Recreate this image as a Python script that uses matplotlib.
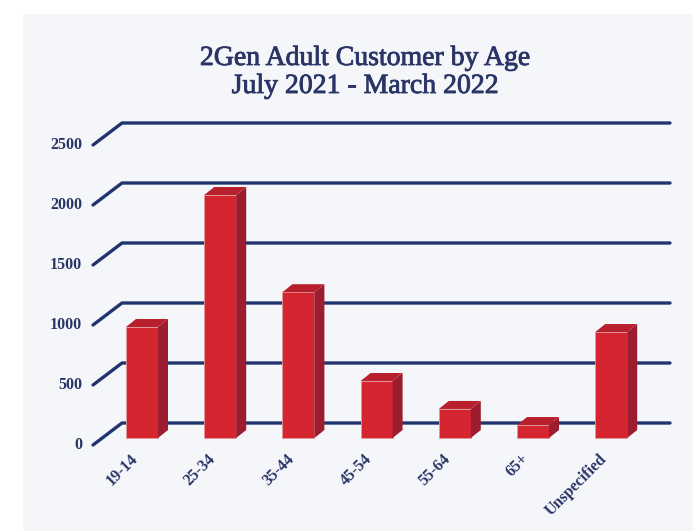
import matplotlib
matplotlib.use("Agg")
import matplotlib.pyplot as plt
import matplotlib.patheffects as pe
from matplotlib.patches import Polygon, Rectangle

# dati
categories = ["19-14", "25-34", "35-44", "45-54", "55-64", "65+", "Unspecified"]
customers = [925, 2025, 1215, 475, 242, 108, 883]
y_ticks = [0, 500, 1000, 1500, 2000, 2500]
title_1 = "2Gen Adult Customer by Age"
title_2 = "July 2021 - March 2022"

# colori
navy = "#22346e"
text_col = "#2a3566"
front_col = "#d42530"
side_col = "#9c1d2f"
top_col = "#b9202e"
panel_col = "#f5f6fa"

W, H = 693, 531
fig = plt.figure(figsize=(W / 100, H / 100), dpi=100)
fig.patch.set_facecolor("white")
fig.patches.append(Rectangle((23 / W, 0), 1, 1 - 14 / H, transform=fig.transFigure,
                             facecolor=panel_col, edgecolor="none", zorder=-5))

# scala: una categoria = 78.2 px, un'unita' = 0.12 px
px_cat = 78.2
px_val = 0.12
x0_px, y0_px = 142, 438
ax = fig.add_axes([0, 0, 1, 1])
ax.set_zorder(1)
ax.set_xlim((0 - x0_px) / px_cat, (W - x0_px) / px_cat)
ax.set_ylim((y0_px - H) / px_val, y0_px / px_val)
ax.axis("off")

# griglia in finta prospettiva
gx_front = (93 - x0_px) / px_cat
gx_back = (122 - x0_px) / px_cat
gx_end = (670 - x0_px) / px_cat
off_front = -7 / px_val
off_back = 15 / px_val
for v in y_ticks:
    ax.plot([gx_front, gx_back, gx_end], [v + off_front, v + off_back, v + off_back],
            color=navy, lw=2.4, solid_capstyle="round", zorder=1)
    ax.text((82 - x0_px) / px_cat, v + off_front, str(v), ha="right", va="center",
            fontsize=11.5, fontweight="bold", color=text_col, family="Liberation Serif")

# barre 3D
bw = 32 / px_cat
dx = 10 / px_cat
dy = 8 / px_val
xs = list(range(len(categories)))
ax.bar(xs, customers, width=bw, color=front_col, edgecolor="#e59a9a", linewidth=0.6, zorder=3)
for x, h, lab in zip(xs, customers, categories):
    l, r = x - bw / 2, x + bw / 2
    ax.add_patch(Polygon([(r, 0), (r + dx, dy), (r + dx, h + dy), (r, h)],
                         closed=True, facecolor=side_col, edgecolor="none", zorder=3))
    ax.add_patch(Polygon([(l, h), (l + dx, h + dy), (r + dx, h + dy), (r, h)],
                         closed=True, facecolor=top_col, edgecolor="none", zorder=3))
    ax.text(x - 0.16, (y0_px - 451) / px_val, lab, rotation=45,
            rotation_mode="anchor", ha="right", va="top", fontsize=11.5,
            fontweight="bold", color=text_col, family="Liberation Serif")

# titolo
stroke = [pe.withStroke(linewidth=0.6, foreground=text_col)]
fig.text(365 / W, 1 - 65 / H, title_1, ha="center", va="baseline",
         fontsize=20, color=text_col, family="Liberation Serif", path_effects=stroke)
fig.text(365 / W, 1 - 93 / H, title_2, ha="center", va="baseline",
         fontsize=20, color=text_col, family="Liberation Serif", path_effects=stroke)

fig.savefig("out.png", dpi=100)
